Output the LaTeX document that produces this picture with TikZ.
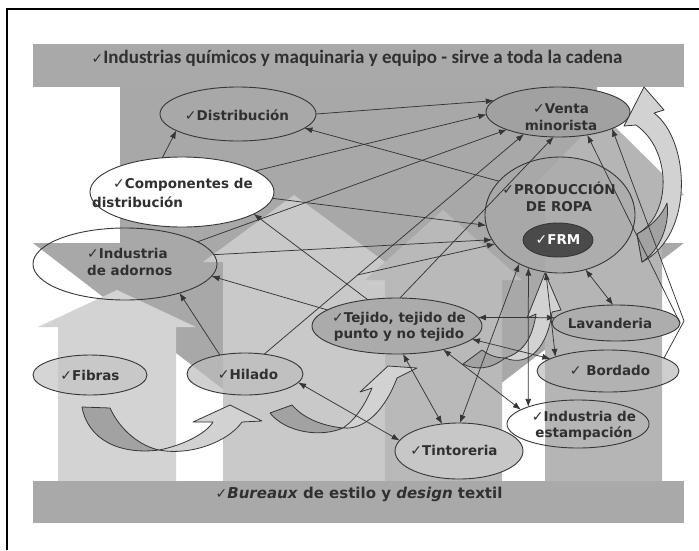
\documentclass[tikz,border=0pt]{standalone}
\usepackage{fontspec}
\setmainfont{DejaVu Sans}
\newfontfamily\bannerfont{Carlito}
\newfontfamily\ckfont{DejaVu Sans}
\usetikzlibrary{shapes.geometric,arrows.meta}
\definecolor{txt}{HTML}{303030}
\definecolor{ln}{HTML}{363636}
\definecolor{barc}{HTML}{A9A9A9}
\definecolor{bigc}{HTML}{A8A8A8}
\definecolor{upa}{HTML}{D3D3D3}
\definecolor{upb}{HTML}{C9C9C9}
\definecolor{upc}{HTML}{B9B9B9}
\definecolor{upd}{HTML}{B5B5B5}
\definecolor{cvl}{HTML}{D2D2D2}
\definecolor{cvd}{HTML}{A2A2A2}
\newcommand{\mychk}{{\ckfont\mdseries\fontsize{14}{14}\selectfont ✓}}
\begin{document}
\begin{tikzpicture}[x=1pt,y=-1pt,
  ell/.style={ellipse, draw=ln, line width=0.9pt, inner sep=0pt, outer sep=0pt},
  lbl/.style={font=\bfseries\fontsize{13.5}{16.5}\selectfont, text=txt, align=center, inner sep=0pt},
  con/.style={draw=ln, line width=0.75pt, -{Latex[length=8pt,width=6pt]}},
  bicon/.style={draw=ln, line width=0.75pt, {Latex[length=8pt,width=6pt]}-{Latex[length=8pt,width=6pt]}},
  blk/.style={draw=ln, line width=0.8pt, line join=round}]
\useasboundingbox (0,0) rectangle (699,550);
\fill[white] (0,0) rectangle (699,550);
% background arrows
\fill[bigc] (120,87) -- (597,87) -- (597,243) -- (684,243) -- (358,493) -- (33,243) -- (120,243) -- cycle;
\fill[upa] (58,481) -- (58,327) -- (38,327) -- (117,290) -- (196,327) -- (176,327) -- (176,481) -- cycle;
\fill[upb] (223,481) -- (223,262) -- (203,262) -- (294,195) -- (385,262) -- (385,481) -- cycle;
\fill[upc] (385,481) -- (385,280) -- (365,280) -- (443,210) -- (522,280) -- (502,280) -- (502,481) -- cycle;
\fill[upd] (545,481) -- (545,195) -- (524,195) -- (603,115) -- (684,195) -- (662,195) -- (662,481) -- cycle;
% bars
\fill[barc] (33,44) rectangle (684,87);
\fill[barc] (33,481) rectangle (684,523);
% frame
\draw[line width=1.3pt] (7,550) -- (7,9) -- (699,9);
% curved block arrows
\filldraw[blk, fill=cvl] (644,87) -- (664,110) -- (654,113) .. controls (690,140) and (695,235) .. (642,262) -- (637,234) .. controls (672,215) and (672,150) .. (636,125) -- (624,126) -- cycle;
\filldraw[blk, fill=cvd] (637,234) .. controls (652,226) and (662,215) .. (667,203) .. controls (670,225) and (660,250) .. (642,262) -- cycle;
\filldraw[blk, fill=cvd] (82,407) -- (110,408) .. controls (120,430) and (140,446) .. (159,450) .. controls (120,455) and (88,440) .. (82,407) -- cycle;
\filldraw[blk, fill=cvl] (159,450) .. controls (180,446) and (205,435) .. (213,422) -- (193,422) -- (230,405) -- (262,421) -- (242,422) .. controls (228,442) and (190,456) .. (159,450) -- cycle;
\filldraw[blk, fill=cvd] (270,413) -- (292,405) .. controls (305,420) and (325,426) .. (343,428) .. controls (320,438) and (285,432) .. (270,413) -- cycle;
\filldraw[blk, fill=cvl] (343,428) .. controls (355,420) and (365,405) .. (372,388) -- (360,392) -- (388,366) -- (417,368) -- (397,378) .. controls (385,410) and (365,430) .. (343,428) -- cycle;
\filldraw[blk, fill=cvd] (463,364) -- (482,350) .. controls (490,356) and (498,358) .. (505,358) .. controls (490,370) and (475,370) .. (463,364) -- cycle;
\filldraw[blk, fill=cvl] (505,358) .. controls (525,352) and (533,335) .. (536,314) -- (527,318) -- (545,273) -- (561,310) -- (552,312) .. controls (548,345) and (530,368) .. (505,358) -- cycle;
% ellipses
\node[ell, minimum width=156pt, minimum height=54pt] (dist) at (238,114) {};
\node[ell, fill=black!37, minimum width=144pt, minimum height=50pt] (venta) at (558,112) {};
\node[ell, fill=white, minimum width=184pt, minimum height=70pt] (comp) at (182,192) {};
\node[ell, minimum width=184pt, minimum height=72pt] (adorn) at (125,264) {};
\node[ell, fill=black!34, fill opacity=0.6, minimum width=150pt, minimum height=116pt] (prod) at (560,215) {};
\node[ell, fill=black!71, minimum width=70pt, minimum height=34pt] (frm) at (558,240) {};
\node[ell, fill=black!33, minimum width=170pt, minimum height=56pt] (tej) at (397,326) {};
\node[ell, fill=black!23, fill opacity=0.7, minimum width=114pt, minimum height=40pt] (fib) at (90,375) {};
\node[ell, fill=black!26, fill opacity=0.7, minimum width=116pt, minimum height=42pt] (hil) at (245,374) {};
\node[ell, fill=black!32, minimum width=128pt, minimum height=36pt] (lav) at (616,323) {};
\node[ell, fill=black!31, fill opacity=0.6, minimum width=142pt, minimum height=42pt] (bord) at (608,371) {};
\node[ell, minimum width=142pt, minimum height=48pt] (estam) at (578,424) {};
\node[ell, fill=black!22, minimum width=128pt, minimum height=56pt] (tint) at (459,451) {};
\coordinate (k) at (684,321);
% connectors
\draw[con] (dist.0) -- (venta.170);
\draw[con] (comp.16) -- (venta.182);
\draw[con] (adorn.17) -- (venta.199);
\draw[con] (hil.46) -- coordinate[pos=0.36] (j) (venta.213);
\draw[con] (tej.84) -- (venta.260);
\draw[con] (lav.0) -- (venta.322);
\draw[con] (bord.13) -- (k) -- (venta.343);
\draw[con] (prod.151) -- (dist.348);
\draw[con] (comp.120) -- (dist.195);
\draw[con] (comp.356) -- (prod.188);
\draw[con] (adorn.6) -- (prod.200);
\draw[con] (j) -- (prod.204);
\draw[con] (tej.138) -- (comp.343);
\draw[con] (tej.167) -- (adorn.352);
\draw[con] (hil.143) -- (adorn.332);
\draw[bicon] (hil.351) -- (tint.170);
\draw[bicon] (tej.282) -- (tint.122);
\draw[bicon] (tej.333) -- (estam.166);
\draw[bicon] (prod.230) -- (tint.88);
\draw[bicon] (prod.239) -- (estam.161);
\draw[bicon] (prod.256) -- (bord.165);
\draw[bicon] (prod.295) -- (lav.99);
\draw[bicon] (tej.6) -- (lav.175);
\draw[bicon] (tej.350) -- (bord.168);
% texts
\node[font=\bannerfont\bfseries\fontsize{19}{22}\selectfont, text=txt, inner sep=0pt] (ban) at (357,58) {\mychk Industrias químicos y maquinaria y equipo - sirve a toda la cadena};
\node[font=\bfseries\fontsize{15}{18}\selectfont, text=txt, inner sep=0pt] (bot) at (359,494) {\mychk\textit{Bureaux} de estilo y \textit{design} textil};
\node[lbl] (dist-t) at (237,115) {\mychk Distribución};
\node[lbl] (venta-t) at (561,117) {\mychk Venta\\minorista};
\node[lbl, anchor=west] (comp-t1) at (113,185) {\mychk Componentes de};
\node[lbl, anchor=west] (comp-t2) at (92,202) {distribución};
\node[lbl, align=left, anchor=west] (adorn-t) at (87,262) {\mychk Industria\\de adornos};
\node[lbl] (prod-t) at (559,197) {\mychk PRODUCCIÓN\\DE ROPA};
\node[lbl, text=white] (frm-t) at (558,240) {\mychk FRM};
\node[lbl] (tej-t) at (399,327) {\mychk Tejido, tejido de\\punto y no tejido};
\node[lbl] (fib-t) at (90,375) {\mychk Fibras};
\node[lbl] (hil-t) at (248,374) {\mychk Hilado};
\node[lbl] (lav-t) at (610,323) {Lavanderia};
\node[lbl] (bord-t) at (610,370) {\mychk\ Bordado};
\node[lbl] (estam-t) at (584,426) {\mychk Industria de\\estampación};
\node[lbl] (tint-t) at (454,450) {\mychk Tintoreria};
\end{tikzpicture}
\end{document}
